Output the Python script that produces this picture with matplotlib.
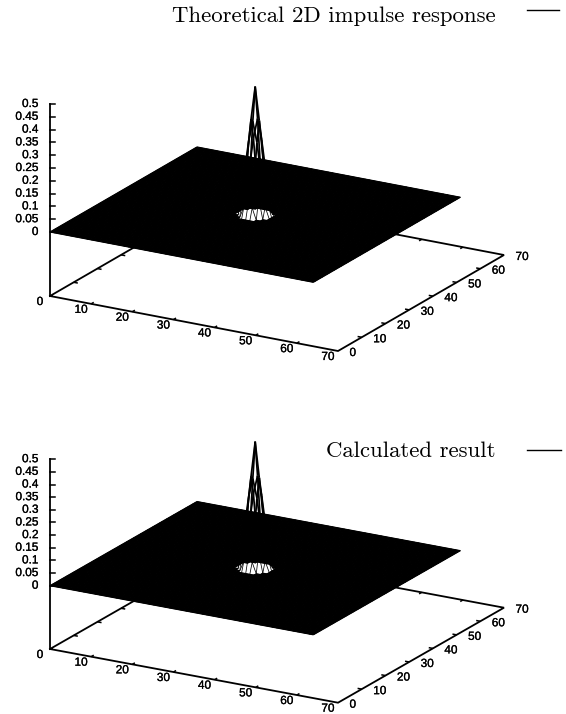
import numpy as np
import matplotlib
matplotlib.use("Agg")
import matplotlib.pyplot as plt
import matplotlib.patheffects as pe
from matplotlib.collections import LineCollection, PolyCollection

# ---- data ----
x_ticks = [0, 10, 20, 30, 40, 50, 60, 70]
y_ticks = [0, 10, 20, 30, 40, 50, 60, 70]
z_ticks = [0, 0.05, 0.1, 0.15, 0.2, 0.25, 0.3, 0.35, 0.4, 0.45, 0.5]
z_labels = ["0", "0.05", "0.1", "0.15", "0.2", "0.25", "0.3", "0.35", "0.4", "0.45", "0.5"]
axis_max = 70
grid_x_max = 64
grid_y_max = 62
peak_x = 32
peak_y = 31

# surface heights around the peak (rows: y offset -4..4, columns: x offset -4..4); zero elsewhere
theoretical_peak = [
    [0.000, 0.000, 0.000, 0.000, 0.000, 0.000, 0.000, 0.000, 0.000],
    [0.000, 0.000, 0.000, 0.045, 0.055, 0.045, 0.000, 0.000, 0.000],
    [0.000, 0.000, 0.080, 0.170, 0.210, 0.170, 0.080, 0.000, 0.000],
    [0.000, 0.045, 0.170, 0.290, 0.370, 0.290, 0.170, 0.045, 0.000],
    [0.000, 0.055, 0.210, 0.370, 0.500, 0.370, 0.210, 0.055, 0.000],
    [0.000, 0.045, 0.170, 0.290, 0.370, 0.290, 0.170, 0.045, 0.000],
    [0.000, 0.000, 0.080, 0.170, 0.210, 0.170, 0.080, 0.000, 0.000],
    [0.000, 0.000, 0.000, 0.045, 0.055, 0.045, 0.000, 0.000, 0.000],
    [0.000, 0.000, 0.000, 0.000, 0.000, 0.000, 0.000, 0.000, 0.000],
]
calculated_peak = [
    [0.000, 0.000, 0.000, 0.000, 0.000, 0.000, 0.000, 0.000, 0.000],
    [0.000, 0.000, 0.000, 0.042, 0.055, 0.042, 0.000, 0.000, 0.000],
    [0.000, 0.000, 0.078, 0.165, 0.205, 0.165, 0.078, 0.000, 0.000],
    [0.000, 0.042, 0.165, 0.285, 0.360, 0.285, 0.165, 0.042, 0.000],
    [0.000, 0.055, 0.205, 0.360, 0.500, 0.360, 0.205, 0.055, 0.000],
    [0.000, 0.042, 0.165, 0.285, 0.360, 0.285, 0.165, 0.042, 0.000],
    [0.000, 0.000, 0.078, 0.165, 0.205, 0.165, 0.078, 0.000, 0.000],
    [0.000, 0.000, 0.000, 0.042, 0.055, 0.042, 0.000, 0.000, 0.000],
    [0.000, 0.000, 0.000, 0.000, 0.000, 0.000, 0.000, 0.000, 0.000],
]
titles = ["Theoretical 2D impulse response", "Calculated result"]

# ---- figure: one axes in page pixels, the 3D scene is projected onto it ----
fig = plt.figure(figsize=(5.66, 7.14), dpi=100)
ax = fig.add_axes([0, 0, 1, 1])
ax.set_xlim(0, 566)
ax.set_ylim(714, 0)
ax.axis("off")

SANS = ["Liberation Sans", "DejaVu Sans"]
SERIF = ["cmr10", "Liberation Serif"]
HEAVY = [pe.withStroke(linewidth=0.2, foreground="k")]


def panel(peak, base, z0_y, z_scale, xv, yv, title, title_base, key_y, key_x):
    bx, by = base

    def proj(x, y, z=0.0):
        x, y, z = np.asarray(x, float), np.asarray(y, float), np.asarray(z, float)
        return bx + x * xv[0] + y * yv[0], z0_y + x * xv[1] + y * yv[1] - z * z_scale

    def base_pt(x, y):
        return bx + x * xv[0] + y * yv[0], by + x * xv[1] + y * yv[1]

    # base frame and ticks
    m = axis_max
    frame = [base_pt(0, 0), base_pt(m, 0), base_pt(m, m), base_pt(0, m), base_pt(0, 0)]
    ax.plot(*zip(*frame), color="k", lw=1.3, solid_joinstyle="miter", zorder=1)
    segs = []
    for t in x_ticks[1:-1]:
        segs.append([base_pt(t, 0), base_pt(t, 1.1)])
        segs.append([base_pt(t, m), base_pt(t, m - 1.1)])
    for t in y_ticks[1:-1]:
        segs.append([base_pt(0, t), base_pt(1.0, t)])
        segs.append([base_pt(m, t), base_pt(m - 1.0, t)])
    ax.add_collection(LineCollection(segs, colors="k", linewidths=1.1, zorder=1))

    # tick labels
    fs = 8.5
    for t in x_ticks:
        px, py = base_pt(t, 0)
        ax.text(px - 10, py + 6, str(t), ha="center", va="center", fontsize=fs,
                family=SANS, path_effects=HEAVY)
    for t in y_ticks:
        px, py = base_pt(m, t)
        ax.text(px + 11.5, py + 2, str(t), ha="left", va="center", fontsize=fs,
                family=SANS, path_effects=HEAVY)

    # vertical axis
    ztop = z0_y - max(z_ticks) * z_scale
    ax.plot([bx, bx], [by, ztop], color="k", lw=1.3, zorder=4)
    for t, lab in zip(z_ticks, z_labels):
        py = z0_y - t * z_scale
        ax.plot([bx, bx + 5], [py, py], color="k", lw=1.1, zorder=4)
        ax.text(38.5, py, lab, ha="right", va="center", fontsize=fs,
                family=SANS, path_effects=HEAVY)

    # surface
    xs = np.arange(grid_x_max + 1)
    ys = np.arange(grid_y_max + 1)
    Z = np.zeros((ys.size, xs.size))
    Z[peak_y - 4:peak_y + 5, peak_x - 4:peak_x + 5] = np.array(peak)
    X, Y = np.meshgrid(xs, ys)
    PX, PY = proj(X, Y, Z)
    P = np.dstack([PX, PY])

    cells = []
    for j in range(ys.size - 1):
        for i in range(xs.size - 1):
            if (Z[j:j + 2, i:i + 2] > 0).any():
                continue
            cells.append([P[j, i], P[j, i + 1], P[j + 1, i + 1], P[j + 1, i]])
    ax.add_collection(PolyCollection(cells, facecolors="k", edgecolors="k", linewidths=0.4, zorder=2))

    # mesh lines: flat part, low flanks of the peak, and heavier upper spike
    flat, flank, spike = [], [], []
    def add(a, za, b, zb):
        if max(za, zb) == 0:
            flat.append([a, b])
        elif max(za, zb) < 0.17:
            flank.append([a, b])
        else:
            spike.append([a, b])
    for j in range(ys.size):
        for i in range(xs.size):
            if i + 1 < xs.size:
                add(P[j, i], Z[j, i], P[j, i + 1], Z[j, i + 1])
            if j + 1 < ys.size:
                add(P[j, i], Z[j, i], P[j + 1, i], Z[j + 1, i])
    ax.add_collection(LineCollection(flat, colors="k", linewidths=0.85, zorder=3))
    ax.add_collection(LineCollection(flank, colors="k", linewidths=0.55, zorder=3))
    ax.add_collection(LineCollection(spike, colors="k", linewidths=1.25, zorder=3))

    # key
    ax.text(496, title_base, title, ha="right", va="baseline", fontsize=16.4, family=SERIF)
    ax.plot(key_x, [key_y, key_y], color="k", lw=1.0)


panel(theoretical_peak, (50, 296), 232, 256, (288 / 70, 55 / 70), (166 / 70, -96 / 70),
      titles[0], 22, 9.5, (527, 559))
panel(calculated_peak, (50, 649), 585.7, 253, (288 / 70, 53.7 / 70), (166 / 70, -95 / 70),
      titles[1], 457, 449.5, (527, 561))

fig.savefig("out.png", dpi=100)
